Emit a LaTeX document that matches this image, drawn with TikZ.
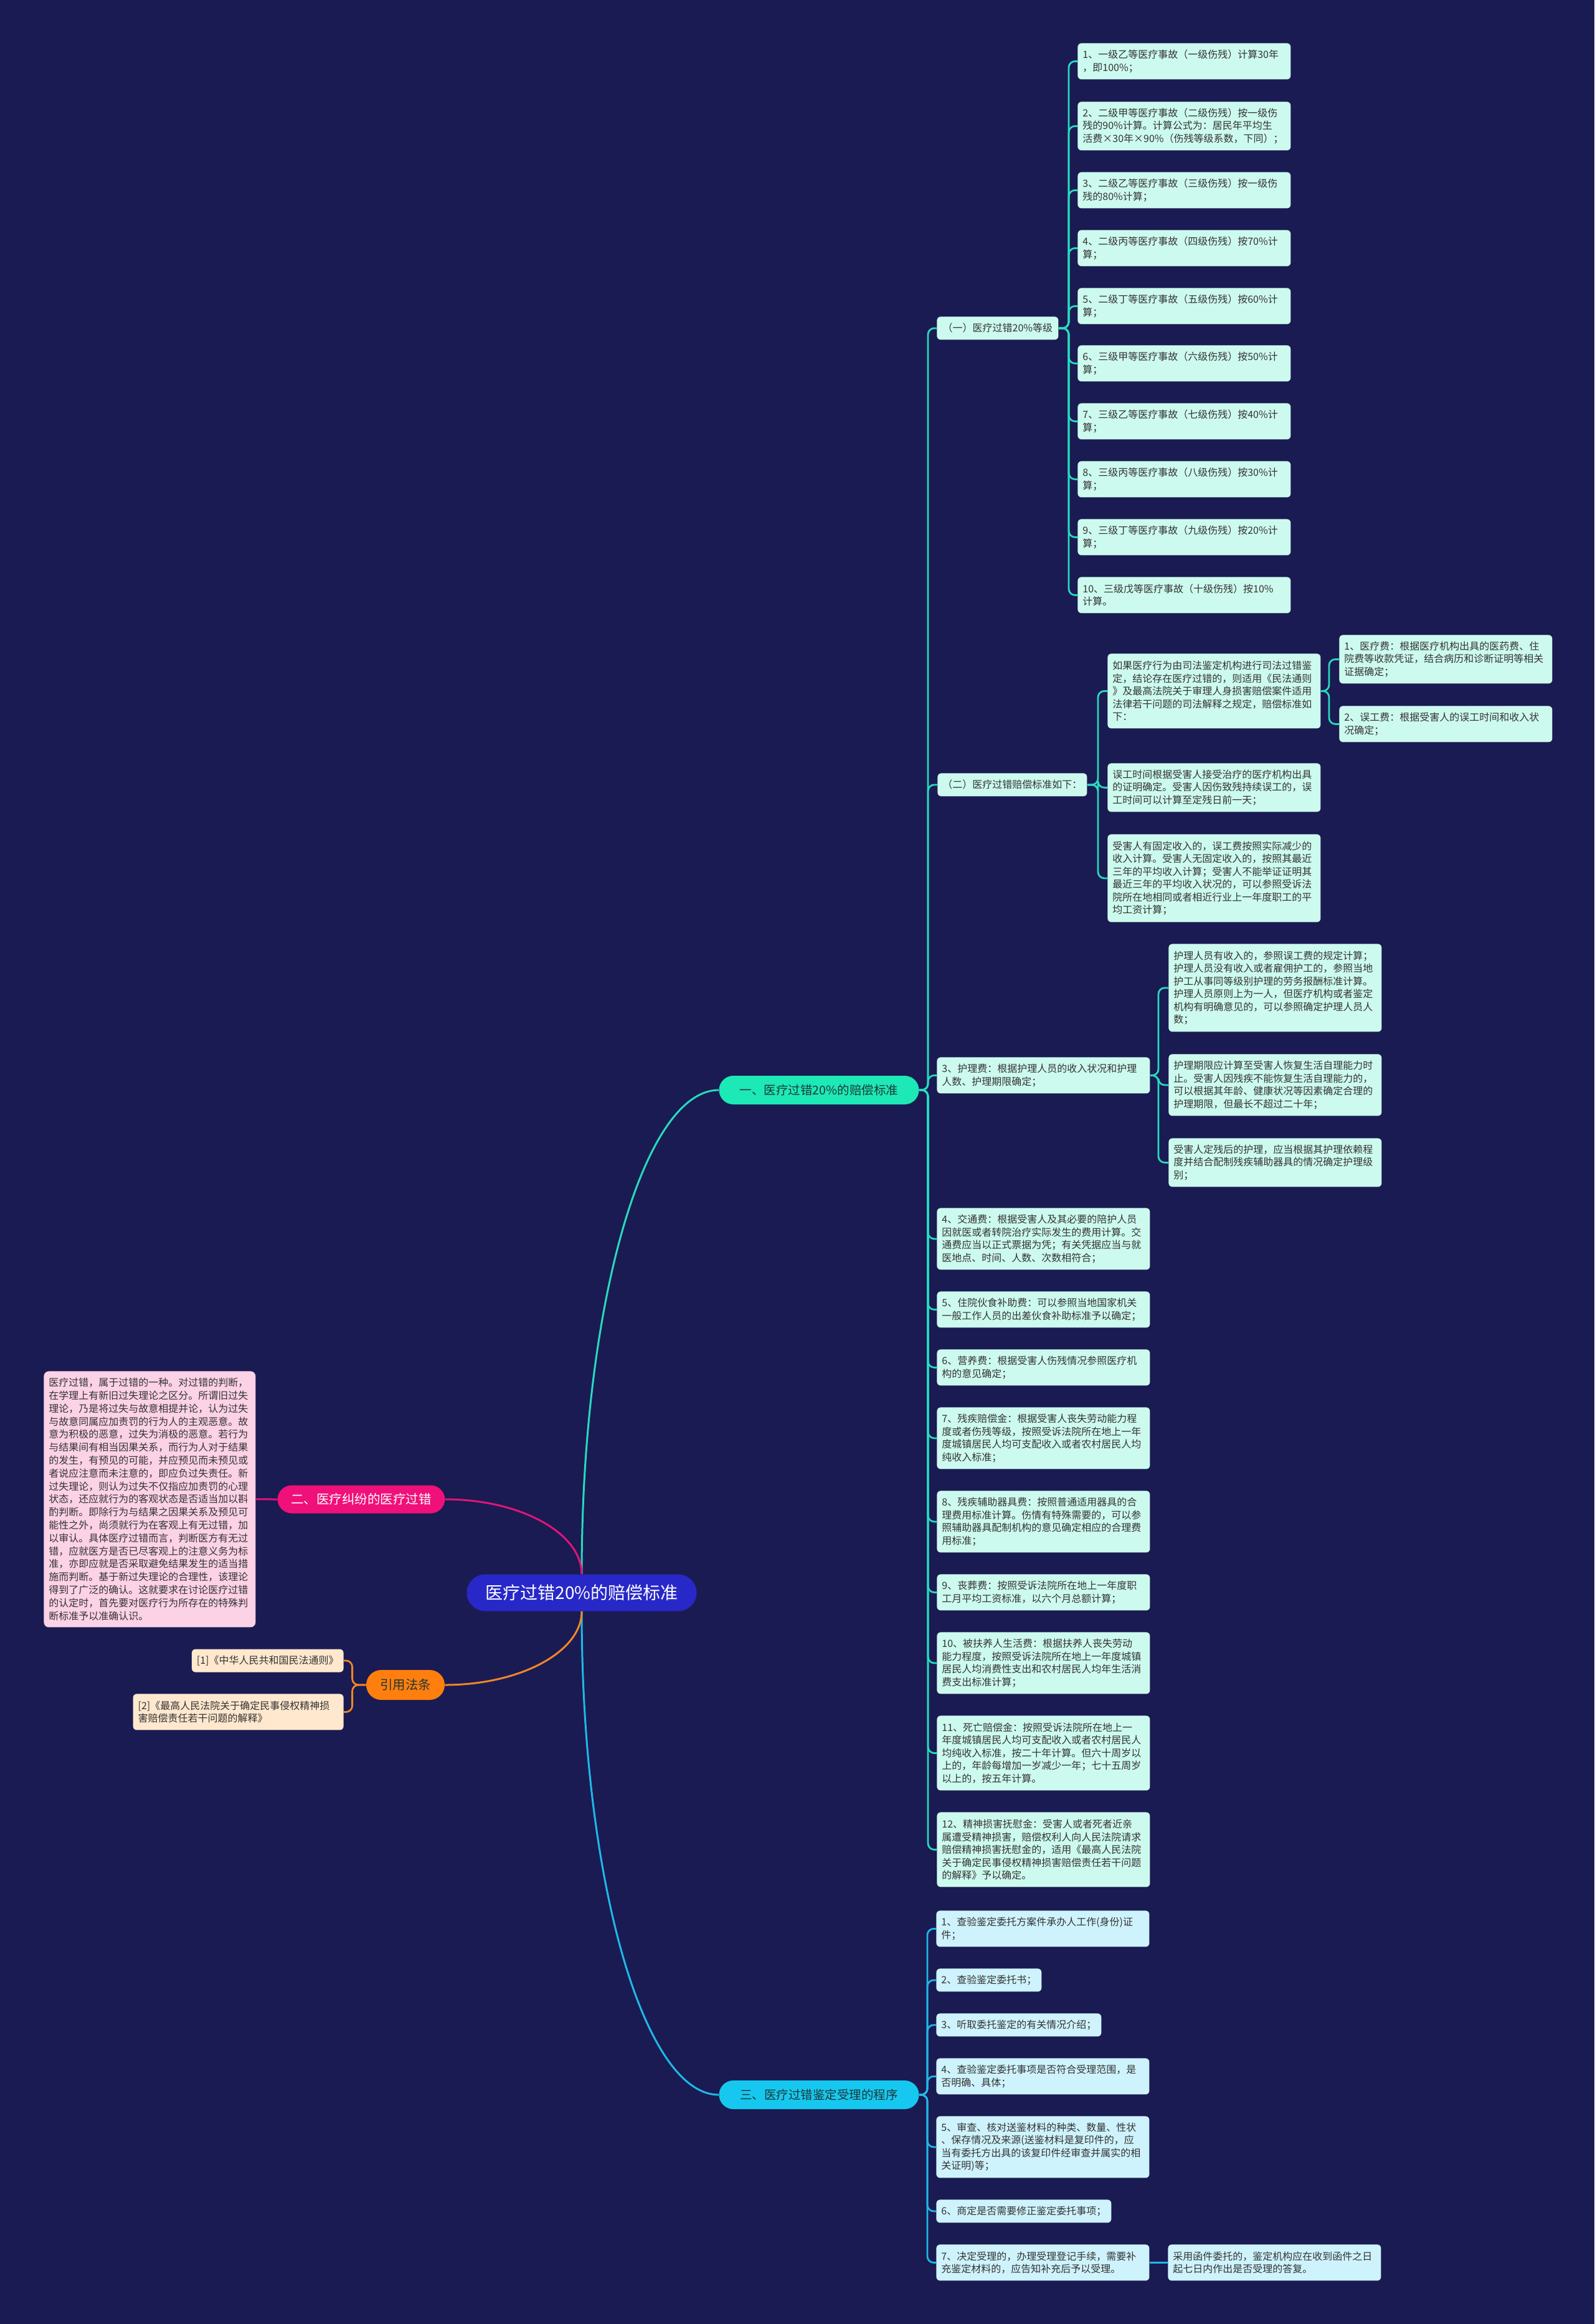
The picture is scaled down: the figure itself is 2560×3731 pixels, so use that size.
\documentclass[tikz,border=0pt]{standalone}
\usepackage{fontspec}
\setmainfont{Noto Sans CJK SC}
\definecolor{bg}{RGB}{26,27,82}
\definecolor{txt}{RGB}{51,51,51}
\definecolor{rootc}{RGB}{40,40,200}
\definecolor{secAc}{RGB}{29,233,182}
\definecolor{lineA}{RGB}{40,218,190}
\definecolor{fillA}{RGB}{205,250,238}
\definecolor{secCc}{RGB}{22,200,240}
\definecolor{lineC}{RGB}{30,185,232}
\definecolor{fillC}{RGB}{206,243,252}
\definecolor{secBc}{RGB}{240,16,122}
\definecolor{lineB}{RGB}{225,20,120}
\definecolor{fillB}{RGB}{252,210,230}
\definecolor{secDc}{RGB}{255,127,14}
\definecolor{lineD}{RGB}{240,135,40}
\definecolor{fillD}{RGB}{255,232,206}
\definecolor{sectxt}{RGB}{30,55,55}
\tikzset{
  box/.style={anchor=north west, rounded corners=3pt, inner xsep=4pt, inner ysep=0pt,
    align=left, text=txt, font=\fontsize{8pt}{10.25pt}\selectfont},
  wbox/.style={box, text width=163pt},
  Lone/.style={minimum height=18.5pt},
  Ltwo/.style={minimum height=29pt},
  Lthree/.style={minimum height=39pt},
  Lfour/.style={minimum height=49.5pt},
  Lfive/.style={minimum height=60pt},
  Lsix/.style={minimum height=70.5pt},
  ga/.style={fill=fillA},
  gc/.style={fill=fillC},
  sect/.style={rounded corners=11.5pt, minimum height=23pt, inner sep=0pt,
    font=\fontsize{9.75pt}{11pt}\selectfont},
  conA/.style={draw=lineA, line width=1.4pt, rounded corners=5pt},
  conC/.style={draw=lineC, line width=1.4pt, rounded corners=5pt},
  mainline/.style={line width=1.5pt},
}
\begin{document}
\begin{tikzpicture}[x=0.5pt,y=-0.5pt]
\fill[bg] (0,0) rectangle (2560,3731);

% trunk coordinates
\coordinate (t0) at (1490,0);
\coordinate (t1) at (1716,0);
\coordinate (t2) at (1763,0);
\coordinate (tA) at (2134,0);
\coordinate (tC) at (1860,0);
\coordinate (t3) at (1489,0);

% root and sections
\node[fill=rootc, rounded corners=14.75pt, minimum width=184.5pt, minimum height=29.5pt,
  inner sep=0pt, text=white, font=\fontsize{14pt}{16pt}\selectfont] (root) at (934,2557) {医疗过错20\%的赔偿标准};
\node[sect, fill=secAc, minimum width=160.5pt, text=sectxt] (secA) at (1315,1750) {一、医疗过错20\%的赔偿标准};
\node[sect, fill=secCc, minimum width=160.5pt, text=sectxt] (secC) at (1315,3363) {三、医疗过错鉴定受理的程序};
\node[sect, fill=secBc, minimum width=134.5pt, minimum height=22.5pt, text=white,
  font=\fontsize{10.25pt}{12pt}\selectfont] (secB) at (580,2407) {二、医疗纠纷的医疗过错};
\node[sect, fill=secDc, minimum width=63pt, minimum height=24pt, rounded corners=12pt, text=sectxt,
  font=\fontsize{10.25pt}{12pt}\selectfont] (secD) at (651,2705) {引用法条};

% section 二 content
\node[box, fill=fillB, text width=162pt, minimum height=205.5pt, rounded corners=4pt,
  font=\fontsize{8pt}{10.4pt}\selectfont] (pink) at (70,2201) {医疗过错，属于过错的一种。对过错的判断，\\在学理上有新旧过失理论之区分。所谓旧过失\\理论，乃是将过失与故意相提并论，认为过失\\与故意同属应加责罚的行为人的主观恶意。故\\意为积极的恶意，过失为消极的恶意。若行为\\与结果间有相当因果关系，而行为人对于结果\\的发生，有预见的可能，并应预见而未预见或\\者说应注意而未注意的，即应负过失责任。新\\过失理论，则认为过失不仅指应加责罚的心理\\状态，还应就行为的客观状态是否适当加以斟\\酌判断。即除行为与结果之因果关系及预见可\\能性之外，尚须就行为在客观上有无过错，加\\以审认。具体医疗过错而言，判断医方有无过\\错，应就医方是否已尽客观上的注意义务为标\\准，亦即应就是否采取避免结果发生的适当措\\施而判断。基于新过失理论的合理性，该理论\\得到了广泛的确认。这就要求在讨论医疗过错\\的认定时，首先要对医疗行为所存在的特殊判\\断标准予以准确认识。};

% references
\node[box, anchor=east, fill=fillD, Lone] (r1) at (552,2666) {[1]《中华人民共和国民法通则》};
\node[box, anchor=north east, fill=fillD, Ltwo, text width=161pt] (r2) at (552,2719) {[2]《最高人民法院关于确定民事侵权精神损\\害赔偿责任若干问题的解释》};

% section 一 : (一)
\node[box, ga, Lone, minimum width=97.5pt] (g1) at (1504,508) {（一）医疗过错20\%等级};
\node[wbox, ga, Ltwo] (a1) at (1730,69) {1、一级乙等医疗事故（一级伤残）计算30年\\，即100\%；};
\node[wbox, ga, Lthree] (a2) at (1730,163) {2、二级甲等医疗事故（二级伤残）按一级伤\\残的90\%计算。计算公式为：居民年平均生\\活费×30年×90\%（伤残等级系数，下同）；};
\node[wbox, ga, Ltwo] (a3) at (1730,276) {3、二级乙等医疗事故（三级伤残）按一级伤\\残的80\%计算；};
\node[wbox, ga, Ltwo] (a4) at (1730,369) {4、二级丙等医疗事故（四级伤残）按70\%计\\算；};
\node[wbox, ga, Ltwo] (a5) at (1730,462) {5、二级丁等医疗事故（五级伤残）按60\%计\\算；};
\node[wbox, ga, Ltwo] (a6) at (1730,554) {6、三级甲等医疗事故（六级伤残）按50\%计\\算；};
\node[wbox, ga, Ltwo] (a7) at (1730,647) {7、三级乙等医疗事故（七级伤残）按40\%计\\算；};
\node[wbox, ga, Ltwo] (a8) at (1730,740) {8、三级丙等医疗事故（八级伤残）按30\%计\\算；};
\node[wbox, ga, Ltwo] (a9) at (1730,833) {9、三级丁等医疗事故（九级伤残）按20\%计\\算；};
\node[wbox, ga, Ltwo] (a10) at (1730,926) {10、三级戊等医疗事故（十级伤残）按10\%\\计算。};

% (二)
\node[box, ga, Lone] (g2) at (1505,1241) {（二）医疗过错赔偿标准如下：};
\node[wbox, ga, Lfive] (bA) at (1778,1049) {如果医疗行为由司法鉴定机构进行司法过错鉴\\定，结论存在医疗过错的，则适用《民法通则\\》及最高法院关于审理人身损害赔偿案件适用\\法律若干问题的司法解释之规定，赔偿标准如\\下：};
\node[wbox, ga, Lthree] (bA1) at (2150,1019) {1、医疗费：根据医疗机构出具的医药费、住\\院费等收款凭证，结合病历和诊断证明等相关\\证据确定；};
\node[wbox, ga, Ltwo] (bA2) at (2150,1133) {2、误工费：根据受害人的误工时间和收入状\\况确定；};
\node[wbox, ga, Lthree] (bB) at (1778,1225) {误工时间根据受害人接受治疗的医疗机构出具\\的证明确定。受害人因伤致残持续误工的，误\\工时间可以计算至定残日前一天；};
\node[wbox, ga, Lsix] (bC) at (1778,1339) {受害人有固定收入的，误工费按照实际减少的\\收入计算。受害人无固定收入的，按照其最近\\三年的平均收入计算；受害人不能举证证明其\\最近三年的平均收入状况的，可以参照受诉法\\院所在地相同或者相近行业上一年度职工的平\\均工资计算；};

% 3 护理费
\node[wbox, ga, Ltwo] (g3) at (1504,1697) {3、护理费：根据护理人员的收入状况和护理\\人数、护理期限确定；};
\node[wbox, ga, Lsix] (c1) at (1876,1515) {护理人员有收入的，参照误工费的规定计算；\\护理人员没有收入或者雇佣护工的，参照当地\\护工从事同等级别护理的劳务报酬标准计算。\\护理人员原则上为一人，但医疗机构或者鉴定\\机构有明确意见的，可以参照确定护理人员人\\数；};
\node[wbox, ga, Lfour] (c2) at (1876,1692) {护理期限应计算至受害人恢复生活自理能力时\\止。受害人因残疾不能恢复生活自理能力的，\\可以根据其年龄、健康状况等因素确定合理的\\护理期限，但最长不超过二十年；};
\node[wbox, ga, Lthree] (c3) at (1876,1827) {受害人定残后的护理，应当根据其护理依赖程\\度并结合配制残疾辅助器具的情况确定护理级\\别；};

% 4 - 12
\node[wbox, ga, Lfour] (n4) at (1504,1939) {4、交通费：根据受害人及其必要的陪护人员\\因就医或者转院治疗实际发生的费用计算。交\\通费应当以正式票据为凭；有关凭据应当与就\\医地点、时间、人数、次数相符合；};
\node[wbox, ga, Ltwo] (n5) at (1504,2073) {5、住院伙食补助费：可以参照当地国家机关\\一般工作人员的出差伙食补助标准予以确定；};
\node[wbox, ga, Ltwo] (n6) at (1504,2166) {6、营养费：根据受害人伤残情况参照医疗机\\构的意见确定；};
\node[wbox, ga, Lfour] (n7) at (1504,2259) {7、残疾赔偿金：根据受害人丧失劳动能力程\\度或者伤残等级，按照受诉法院所在地上一年\\度城镇居民人均可支配收入或者农村居民人均\\纯收入标准；};
\node[wbox, ga, Lfour] (n8) at (1504,2393) {8、残疾辅助器具费：按照普通适用器具的合\\理费用标准计算。伤情有特殊需要的，可以参\\照辅助器具配制机构的意见确定相应的合理费\\用标准；};
\node[wbox, ga, Ltwo] (n9) at (1504,2527) {9、丧葬费：按照受诉法院所在地上一年度职\\工月平均工资标准，以六个月总额计算；};
\node[wbox, ga, Lfour] (n10) at (1504,2620) {10、被扶养人生活费：根据扶养人丧失劳动\\能力程度，按照受诉法院所在地上一年度城镇\\居民人均消费性支出和农村居民人均年生活消\\费支出标准计算；};
\node[wbox, ga, Lfive] (n11) at (1504,2754) {11、死亡赔偿金：按照受诉法院所在地上一\\年度城镇居民人均可支配收入或者农村居民人\\均纯收入标准，按二十年计算。但六十周岁以\\上的，年龄每增加一岁减少一年；七十五周岁\\以上的，按五年计算。};
\node[wbox, ga, Lfive] (n12) at (1504,2909) {12、精神损害抚慰金：受害人或者死者近亲\\属遭受精神损害，赔偿权利人向人民法院请求\\赔偿精神损害抚慰金的，适用《最高人民法院\\关于确定民事侵权精神损害赔偿责任若干问题\\的解释》予以确定。};

% section 三
\node[wbox, gc, Ltwo] (s1) at (1503,3067) {1、查验鉴定委托方案件承办人工作(身份)证\\件；};
\node[box, gc, Lone] (s2) at (1503,3160) {2、查验鉴定委托书；};
\node[box, gc, Lone] (s3) at (1503,3232) {3、听取委托鉴定的有关情况介绍；};
\node[wbox, gc, Ltwo] (s4) at (1503,3304) {4、查验鉴定委托事项是否符合受理范围，是\\否明确、具体；};
\node[wbox, gc, Lfour] (s5) at (1503,3397) {5、审查、核对送鉴材料的种类、数量、性状\\、保存情况及来源(送鉴材料是复印件的，应\\当有委托方出具的该复印件经审查并属实的相\\关证明)等；};
\node[box, gc, Lone] (s6) at (1503,3531) {6、商定是否需要修正鉴定委托事项；};
\node[wbox, gc, Ltwo] (s7) at (1503,3603) {7、决定受理的，办理受理登记手续，需要补\\充鉴定材料的，应告知补充后予以受理。};
\node[wbox, gc, Ltwo] (s7c) at (1875,3603) {采用函件委托的，鉴定机构应在收到函件之日\\起七日内作出是否受理的答复。};

% main connectors
\draw[mainline, lineA] (root.north) .. controls (934,2098) and (1033,1750) .. (secA.west);
\draw[mainline, lineC] (root.south) .. controls (934,3015) and (1033,3363) .. (secC.west);
\draw[mainline, lineB] (root.north) .. controls (934,2461) and (835,2407) .. (secB.east);
\draw[mainline, lineD] (root.south) .. controls (934,2652) and (835,2705) .. (secD.east);
\draw[mainline, lineB] (secB.west) -- (pink.east);
\draw[line width=1.4pt, lineD, rounded corners=5pt] (secD.west) -- ++(-22,0) |- (r1.east);
\draw[line width=1.4pt, lineD, rounded corners=5pt] (secD.west) -- ++(-22,0) |- (r2.east);

% section 一 children
\foreach \c in {g1,g2,g3,n4,n5,n6,n7,n8,n9,n10,n11,n12}
  \draw[conA] (secA.east) -- (secA.east -| t0) |- (\c.west);
\foreach \c in {a1,a2,a3,a4,a5,a6,a7,a8,a9,a10}
  \draw[conA] (g1.east) -- (g1.east -| t1) |- (\c.west);
\foreach \c in {bA,bB,bC}
  \draw[conA] (g2.east) -- (g2.east -| t2) |- (\c.west);
\foreach \c in {bA1,bA2}
  \draw[conA] (bA.east) -- (bA.east -| tA) |- (\c.west);
\foreach \c in {c1,c2,c3}
  \draw[conA] (g3.east) -- (g3.east -| tC) |- (\c.west);

% section 三 children
\foreach \c in {s1,s2,s3,s4,s5,s6,s7}
  \draw[conC] (secC.east) -- (secC.east -| t3) |- (\c.west);
\draw[conC] (s7.east) -- (s7c.west);
\end{tikzpicture}
\end{document}
